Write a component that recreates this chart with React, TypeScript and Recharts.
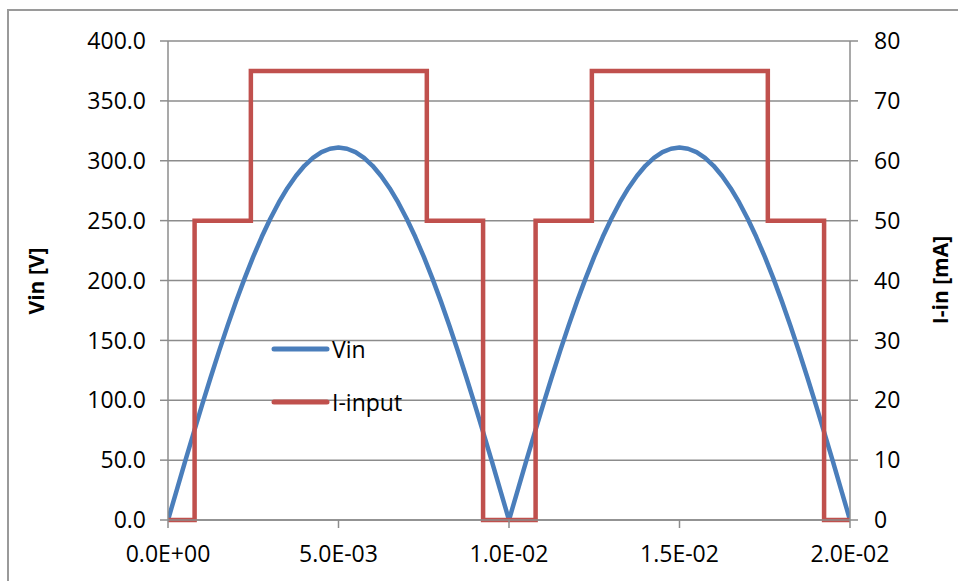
import { CartesianGrid, Legend, Line, LineChart, XAxis, YAxis } from 'recharts';

// time axis in ms (chart labels shown in seconds, exponent format)
const xTicks = [0, 5, 10, 15, 20];
const xTickLabels = ['0.0E+00', '5.0E-03', '1.0E-02', '1.5E-02', '2.0E-02'];
const leftTicks = [0, 50, 100, 150, 200, 250, 300, 350, 400];
const rightTicks = [0, 10, 20, 30, 40, 50, 60, 70, 80];

// Vin [V]
const vinTimeMs = [
  0, 0.25, 0.5, 0.75, 1, 1.25, 1.5, 1.75, 2, 2.25, 2.5, 2.75, 3, 3.25, 3.5, 3.75, 4, 4.25, 4.5, 4.75,
  5, 5.25, 5.5, 5.75, 6, 6.25, 6.5, 6.75, 7, 7.25, 7.5, 7.75, 8, 8.25, 8.5, 8.75, 9, 9.25, 9.5, 9.75,
  10, 10.25, 10.5, 10.75, 11, 11.25, 11.5, 11.75, 12, 12.25, 12.5, 12.75, 13, 13.25, 13.5, 13.75,
  14, 14.25, 14.5, 14.75, 15, 15.25, 15.5, 15.75, 16, 16.25, 16.5, 16.75, 17, 17.25, 17.5, 17.75,
  18, 18.25, 18.5, 18.75, 19, 19.25, 19.5, 19.75, 20,
];
const vinVolts = [
  0, 24.4, 48.7, 72.6, 96.1, 119.0, 141.2, 162.5, 182.8, 202.0, 219.9, 236.5, 251.6, 265.2, 277.1,
  287.3, 295.8, 302.4, 307.2, 310.0, 311.0, 310.0, 307.2, 302.4, 295.8, 287.3, 277.1, 265.2, 251.6,
  236.5, 219.9, 202.0, 182.8, 162.5, 141.2, 119.0, 96.1, 72.6, 48.7, 24.4,
  0, 24.4, 48.7, 72.6, 96.1, 119.0, 141.2, 162.5, 182.8, 202.0, 219.9, 236.5, 251.6, 265.2, 277.1,
  287.3, 295.8, 302.4, 307.2, 310.0, 311.0, 310.0, 307.2, 302.4, 295.8, 287.3, 277.1, 265.2, 251.6,
  236.5, 219.9, 202.0, 182.8, 162.5, 141.2, 119.0, 96.1, 72.6, 48.7, 24.4, 0,
];

// I-input [mA], step changes
const iTimeMs = [0, 0.78, 2.43, 7.59, 9.24, 10.78, 12.43, 17.59, 19.24, 20];
const iMilliAmp = [0, 50, 75, 50, 0, 50, 75, 50, 0, 0];

const vinData = vinTimeMs.map((t, i) => ({ t, vin: vinVolts[i] }));
const iData = iTimeMs.map((t, i) => ({ t, iin: iMilliAmp[i] }));

const FONT = '"Open Sans", "Liberation Sans", sans-serif';
const BLUE = '#4a7ebb';
const RED = '#c0504d';
const GRID = '#8c8c8c';

const tickStyle = { fontSize: 23, fill: '#000', fontFamily: FONT };

function AxisTitle({ px, py, text }: { px: number; py: number; text: string }) {
  return (
    <text
      x={px}
      y={py}
      transform={`rotate(-90 ${px} ${py})`}
      textAnchor="middle"
      dominantBaseline="central"
      fontFamily={FONT}
      fontWeight="bold"
      fontSize={21}
      fill="#000"
    >
      {text}
    </text>
  );
}

function LegendBox() {
  const items = [
    { name: 'Vin', color: BLUE },
    { name: 'I-input', color: RED },
  ];
  return (
    <div style={{ fontFamily: FONT, fontSize: 23, color: '#000' }}>
      {items.map((it) => (
        <div key={it.name} style={{ display: 'flex', alignItems: 'center', height: 53 }}>
          <svg width={62} height={10} style={{ marginRight: 2 }}>
            <line x1={6} y1={5} x2={59} y2={5} stroke={it.color} strokeWidth={5} strokeLinecap="round" />
          </svg>
          <span>{it.name}</span>
        </div>
      ))}
    </div>
  );
}

export default function App() {
  return (
    <div
      style={{
        position: 'absolute',
        left: 0,
        top: 0,
        width: 958,
        height: 581,
        overflow: 'hidden',
        background: '#fff',
      }}
    >
      <div
        style={{
          position: 'absolute',
          left: 7,
          top: 9,
          width: 1000,
          height: 700,
          border: '2px solid #9a9a9a',
        }}
      />
      <LineChart
        width={958}
        height={581}
        margin={{ top: 41, right: 48, left: 88, bottom: 11 }}
        style={{ fontFamily: FONT }}
      >
        <CartesianGrid yAxisId="left" vertical={false} stroke={GRID} strokeWidth={1.5} />
        <XAxis
          type="number"
          dataKey="t"
          domain={[0, 20]}
          ticks={xTicks}
          tickFormatter={(_v, i) => xTickLabels[i]}
          height={50}
          tickSize={8}
          tickMargin={18}
          tick={tickStyle}
          stroke={GRID}
          strokeWidth={1.5}
          allowDataOverflow
        />
        <YAxis
          yAxisId="left"
          domain={[0, 400]}
          ticks={leftTicks}
          tickFormatter={(v) => Number(v).toFixed(1)}
          width={80}
          tickSize={8}
          tickMargin={14}
          tick={tickStyle}
          stroke={GRID}
          strokeWidth={1.5}
          label={() => <AxisTitle px={36} py={281} text="Vin [V]" />}
        />
        <YAxis
          yAxisId="right"
          orientation="right"
          domain={[0, 80]}
          ticks={rightTicks}
          width={60}
          tickSize={8}
          tickMargin={16}
          tick={tickStyle}
          stroke={GRID}
          strokeWidth={1.5}
          label={() => <AxisTitle px={940} py={280} text="I-in [mA]" />}
        />
        <Legend
          layout="horizontal"
          verticalAlign="middle"
          align="center"
          content={() => <LegendBox />}
          wrapperStyle={{ left: 268, top: 322, width: 'auto' }}
        />
        <Line
          yAxisId="left"
          data={vinData}
          dataKey="vin"
          name="Vin"
          type="linear"
          stroke={BLUE}
          strokeWidth={4.5}
          strokeLinejoin="round"
          dot={false}
          isAnimationActive={false}
        />
        <Line
          yAxisId="right"
          data={iData}
          dataKey="iin"
          name="I-input"
          type="stepAfter"
          stroke={RED}
          strokeWidth={4.5}
          strokeLinejoin="miter"
          dot={false}
          isAnimationActive={false}
        />
      </LineChart>
    </div>
  );
}
